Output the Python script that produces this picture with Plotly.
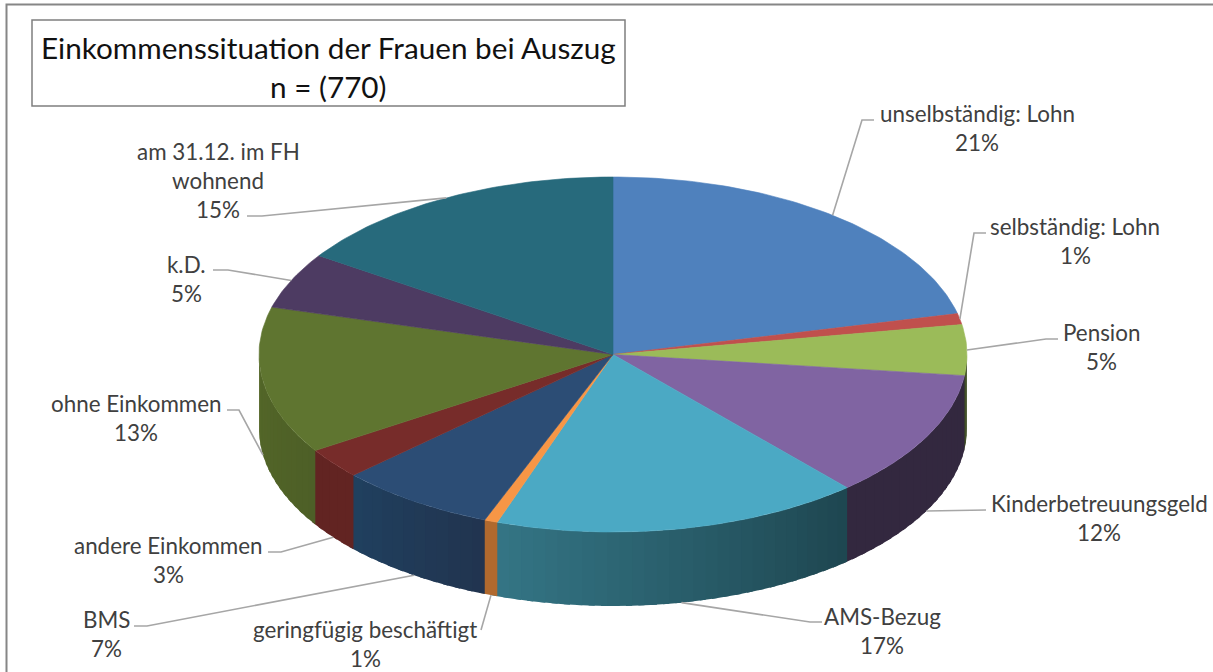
import math
import plotly.graph_objects as go

# --- data ---
categories = ["unselbständig: Lohn", "selbständig: Lohn", "Pension", "Kinderbetreuungsgeld",
              "AMS-Bezug", "geringfügig beschäftigt", "BMS", "andere Einkommen",
              "ohne Einkommen", "k.D.", "am 31.12. im FH<br>wohnend"]
values = [21.3, 1.0, 4.6, 11.6, 16.8, 0.6, 7.2, 2.8, 13.4, 5.1, 15.6]
percent_labels = ["21%", "1%", "5%", "12%", "17%", "1%", "7%", "3%", "13%", "5%", "15%"]
title_lines = ["Einkommenssituation der Frauen bei Auszug", "n = (770)"]

# --- style ---
top_colors = ["#4F81BD", "#C0504D", "#9BBB59", "#8064A2", "#4BA9C4", "#F79646",
              "#2C4D75", "#772C2A", "#5F7530", "#4D3B62", "#276A7C"]
# wall colours in clockwise order (right-hand end first on the front rim)
wall_colors = [("#3B618E", "#3B618E"), ("#8F3C3A", "#8F3C3A"), ("#3C4A22", "#3C4A22"),
               ("#33283F", "#33283F"), ("#1E4650", "#347585"), ("#B0692E", "#B0692E"),
               ("#21344F", "#20405F"), ("#622422", "#622422"), ("#4D5F27", "#546728"),
               ("#3A2D4A", "#3A2D4A"), ("#1F5260", "#1F5260")]
CX, CY, RX, RY, DEPTH = 613, 354.5, 354, 177.5, 74
TEXT = "#404040"
LEADER = "#A6A6A6"
FONT = "Lato"
LABEL_SIZE = 22.4

# label line centres: (centre x, first line y), leader elbow points
label_pos = [(977, 113), (1075, 226), (1101, 332), (1099, 503), (882, 616),
             (365, 629), (106, 619), (168, 545), (136, 403), (186, 264), (218, 151)]
leader_tail = [[(862, 120), (874, 120)], [(974, 233), (986, 233)], [(1046, 339), (1058, 339)],
               [(986, 510)], [(810, 622), (822, 622)], [(481, 630)],
               [(147, 626), (134, 626)], [(281, 552), (268, 552)], [(239, 410), (227, 410)],
               [(228, 270), (213, 270)], [(262, 216), (247, 216)]]


def pt(t, dz=0.0):
    return CX + RX * math.sin(t), CY - RY * math.cos(t) + dz


def mix(c1, c2, f):
    a = [int(c1[i:i + 2], 16) for i in (1, 3, 5)]
    b = [int(c2[i:i + 2], 16) for i in (1, 3, 5)]
    return "rgb(%d,%d,%d)" % tuple(round(p + (q - p) * f) for p, q in zip(a, b))


fig = go.Figure()


def poly(xs, ys, color, lw=0.0):
    fig.add_trace(go.Scatter(x=xs, y=ys, mode="lines", fill="toself", fillcolor=color,
                             line=dict(color=color, width=lw), hoverinfo="skip", showlegend=False))


total = sum(values)
edges = [0.0]
for v in values:
    edges.append(edges[-1] + v / total * 2 * math.pi)

# side walls: each strip runs on under the next one, so no seams show
for i in range(len(values)):
    a0, a1 = max(edges[i], math.pi / 2), min(edges[i + 1], 1.5 * math.pi)
    if a1 <= a0:
        continue
    n = max(1, int((a1 - a0) / math.radians(2)))
    for k in range(n):
        u0 = a0 + (a1 - a0) * k / n
        u1 = min(a0 + (a1 - a0) * (k + 1) / n + math.radians(1), 1.5 * math.pi)
        ts = [u0, (u0 + u1) / 2, u1]
        pts = [pt(t) for t in ts] + [pt(t, DEPTH) for t in reversed(ts)]
        poly([p[0] for p in pts] + [pts[0][0]], [p[1] for p in pts] + [pts[0][1]],
             mix(wall_colors[i][0], wall_colors[i][1], (k + 0.5) / n))

# top face
for i in range(len(values)):
    n = max(2, int((edges[i + 1] - edges[i]) / math.radians(1)))
    pts = [(CX, CY)] + [pt(edges[i] + (edges[i + 1] - edges[i]) * k / n) for k in range(n + 1)] + [(CX, CY)]
    poly([p[0] for p in pts], [p[1] for p in pts], top_colors[i], 0.6)

# leader lines start at the middle of each slice's rim
for i in range(len(values)):
    mid = (edges[i] + edges[i + 1]) / 2
    dz = DEPTH if math.cos(mid) < 0 else 0
    pts = [pt(mid, dz)] + leader_tail[i]
    fig.add_trace(go.Scatter(x=[p[0] for p in pts], y=[p[1] for p in pts], mode="lines",
                             line=dict(color=LEADER, width=1.6), hoverinfo="skip", showlegend=False))

annotations = []
for i, name in enumerate(categories):
    lines = name.split("<br>") + [percent_labels[i]]
    x, y = label_pos[i]
    for j, line in enumerate(lines):
        annotations.append(dict(x=x, y=y + j * 29, text=line, showarrow=False, xref="x", yref="y",
                                xanchor="center", yanchor="middle",
                                font=dict(family=FONT, size=LABEL_SIZE, color=TEXT)))
for j, line in enumerate(title_lines):
    annotations.append(dict(x=328, y=47 + j * 39, text=line, showarrow=False, xref="x", yref="y",
                            xanchor="center", yanchor="middle",
                            font=dict(family=FONT, size=29.7, color="#111111")))

shapes = [
    dict(type="rect", x0=6.5, y0=4.5, x1=1240, y1=700, xref="x", yref="y",
         line=dict(color="#868686", width=2), fillcolor="rgba(0,0,0,0)", layer="above"),
    dict(type="rect", x0=32, y0=20, x1=625, y1=106, xref="x", yref="y",
         line=dict(color="#7F7F7F", width=1.5), fillcolor="rgba(0,0,0,0)", layer="above"),
]

fig.update_layout(
    width=1213, height=672, margin=dict(l=0, r=0, t=0, b=0),
    paper_bgcolor="white", plot_bgcolor="white", showlegend=False,
    xaxis=dict(range=[0, 1213], visible=False, fixedrange=True),
    yaxis=dict(range=[672, 0], visible=False, fixedrange=True),
    annotations=annotations, shapes=shapes,
)
fig.write_html("out.html", config={"displayModeBar": False},
               post_script="document.body.style.margin='0';document.documentElement.style.overflow='hidden';")
